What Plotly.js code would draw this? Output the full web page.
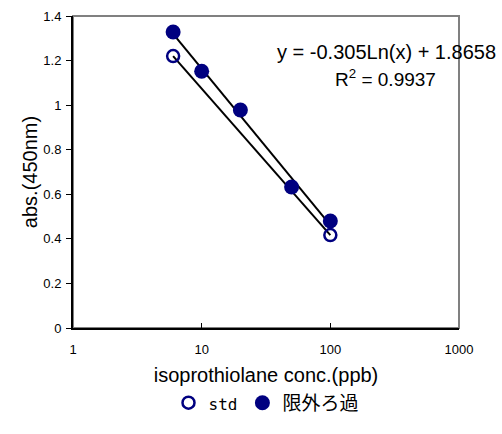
<!DOCTYPE html>
<html><head><meta charset="utf-8">
<script src="https://cdn.plot.ly/plotly-3.0.1.min.js"></script>
<style>html,body{margin:0;padding:0;background:#fff}#c{width:502px;height:434px}</style>
</head><body><div id="c"></div>
<script>
const stdX = [6, 100];
const stdY = [1.22, 0.417];
const ufX = [6, 10, 20, 50, 100];
const ufY = [1.328, 1.152, 0.978, 0.633, 0.48];
const ufSlope = -0.305, ufIntercept = 1.8658;
const names = ['<span style="font-family:\'DejaVu Sans Mono\';font-size:16px">std</span>', '限外ろ過'];
const xTicks = [1, 10, 100, 1000];
const yTicks = [0, 0.2, 0.4, 0.6, 0.8, 1, 1.2, 1.4];

function lnFit(xs, ys) {
  const lx = xs.map(Math.log);
  const n = xs.length;
  const mx = lx.reduce((a,b)=>a+b,0)/n, my = ys.reduce((a,b)=>a+b,0)/n;
  let sxy=0, sxx=0;
  for (let i=0;i<n;i++){sxy+=(lx[i]-mx)*(ys[i]-my);sxx+=(lx[i]-mx)**2;}
  const b = sxy/sxx; return {b, a: my - b*mx};
}
const sf = lnFit(stdX, stdY);
const lineX = [6, 100];
const NAVY = '#000080';
const traces = [
  {x: lineX, y: lineX.map(x=>sf.a+sf.b*Math.log(x)), mode:'lines', line:{color:'#000',width:2}, showlegend:false, hoverinfo:'skip'},
  {x: lineX, y: lineX.map(x=>ufIntercept+ufSlope*Math.log(x)), mode:'lines', line:{color:'#000',width:2}, showlegend:false, hoverinfo:'skip'},
  {x: stdX, y: stdY, name: names[0], mode:'markers', marker:{symbol:'circle-open', size:12, color:NAVY, line:{width:2.5,color:NAVY}}},
  {x: ufX, y: ufY, name: names[1], mode:'markers', marker:{symbol:'circle', size:15, color:NAVY}}
];
const FF = '"Liberation Sans", Arial, sans-serif';
const layout = {
  width:502, height:434,
  margin:{l:73, r:43, t:16, b:106},
  paper_bgcolor:'#fff', plot_bgcolor:'#fff',
  font: {family:FF, color:'#000'},
  showlegend:true,
  legend:{orientation:'h', x:0.5, xanchor:'center', y:-0.24, yanchor:'middle',
    font:{family:'"Noto Sans CJK JP", sans-serif', size:19, color:'#000'}, itemwidth:14, tracegroupgap:0},
  xaxis:{type:'log', range:[0,3], tickvals:xTicks, ticktext:xTicks.map(String), ticks:'inside', ticklen:5,
    ticklabelstandoff:8,
    showgrid:false, zeroline:false, showline:true, linecolor:'#000', linewidth:2, tickcolor:'#000',
    tickfont:{size:13, family:FF},
    title:{text:'isoprothiolane conc.(ppb)', font:{size:20, family:FF}, standoff:12}},
  yaxis:{range:[0,1.4], tickvals:yTicks, ticktext:yTicks.map(String), ticks:'outside', ticklen:5,
    ticklabelstandoff:2,
    showgrid:false, zeroline:false, showline:true, linecolor:'#000', linewidth:2, tickcolor:'#000',
    tickfont:{size:13, family:FF},
    title:{text:'abs.(450nm)', font:{size:20, family:FF}, standoff:0}},
  shapes:[{type:'rect', xref:'paper', yref:'paper', x0:0, x1:1, y0:0, y1:1, line:{color:'#808080', width:2}, layer:'below'}],
  annotations:[
    {xref:'paper', yref:'paper', x:1.1, y:0.885, xanchor:'right', yanchor:'middle', showarrow:false,
      text:'y = -0.305Ln(x) + 1.8658', font:{size:20, family:FF}},
    {xref:'paper', yref:'paper', x:0.945, y:0.80, xanchor:'right', yanchor:'middle', showarrow:false,
      text:'R<sup>2</sup> = 0.9937', font:{size:19, family:FF}}
  ]
};
Plotly.newPlot('c', traces, layout, {displayModeBar:false, staticPlot:true});
</script></body></html>
